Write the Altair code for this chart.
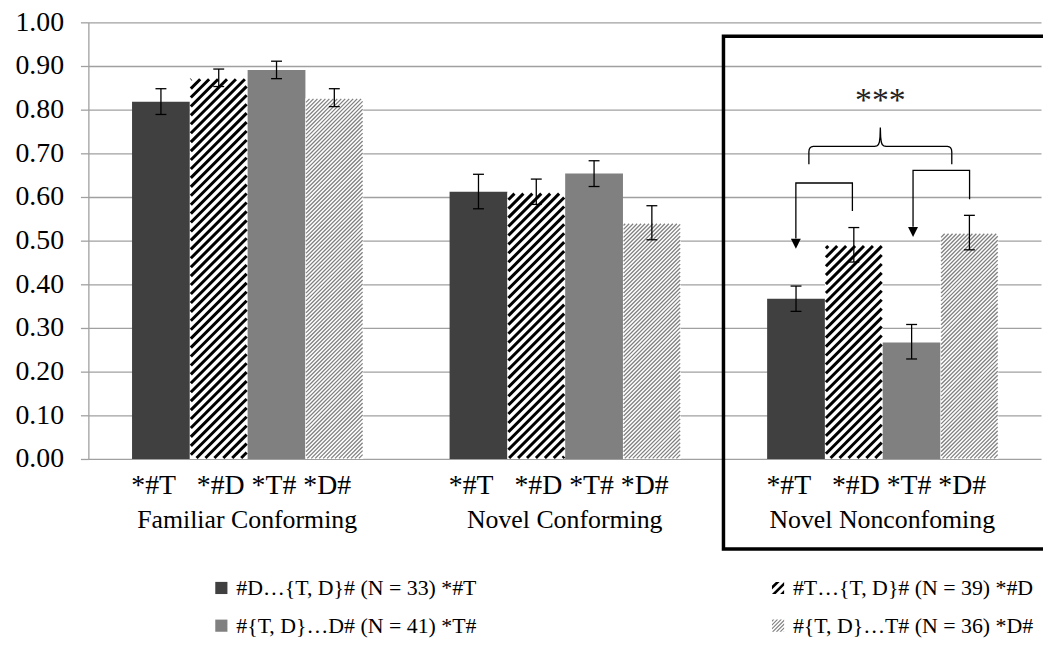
import math
import altair as alt
import pandas as pd

# ---------------- data ----------------
groups = ["Familiar Conforming", "Novel Conforming", "Novel Nonconfoming"]
conditions = ["*#T", "*#D", "*T#", "*D#"]
condition_row = "*#T\u00a0\u00a0\u00a0*#D *T# *D#"
legend_labels = [
    "#D\u2026{T, D}# (N = 33) *#T",
    "#T\u2026{T, D}# (N = 39) *#D",
    "#{T, D}\u2026D# (N = 41) *T#",
    "#{T, D}\u2026T# (N = 36) *D#",
]

mean_familiar_conf = [0.818, 0.872, 0.891, 0.826]
mean_novel_conf = [0.612, 0.610, 0.654, 0.540]
mean_novel_nonconf = [0.367, 0.490, 0.267, 0.517]

upper_familiar_conf = [0.848, 0.893, 0.911, 0.848]
upper_novel_conf = [0.652, 0.641, 0.683, 0.580]
upper_novel_nonconf = [0.396, 0.530, 0.308, 0.558]

lower_familiar_conf = [0.789, 0.853, 0.871, 0.807]
lower_novel_conf = [0.573, 0.583, 0.624, 0.502]
lower_novel_nonconf = [0.338, 0.451, 0.229, 0.479]

significance = "***"

# annotation geometry (in data units: x = category index, y = proportion)
brace_half = [(2.269, 0.675), (2.269, 0.703), (2.270, 0.709), (2.273, 0.713),
              (2.277, 0.715), (2.283, 0.716), (2.476, 0.716), (2.483, 0.717),
              (2.488, 0.720), (2.491, 0.726), (2.493, 0.738), (2.494, 0.759)]
arrow_left = [(2.406, 0.568), (2.406, 0.632), (2.228, 0.632), (2.228, 0.505)]
arrow_right = [(2.775, 0.595), (2.775, 0.661), (2.597, 0.661), (2.597, 0.532)]
arrow_heads = [(2.228, 0.493), (2.597, 0.520)]
highlight_box = (2.0, 3.02, 0.968, -0.206)
star_pos = (2.494, 0.798)

# ---------------- layout / style ----------------
W, H = 960, 440
SX, SY = W / 3.0, H / 1.0
GAP, BW = 0.1375, 0.182
FONT = "Liberation Serif"
GRID = "#a0a0a0"
bar_fills = ["#404040", "#ffffff", "#808080", "#ffffff"]

means = [mean_familiar_conf, mean_novel_conf, mean_novel_nonconf]
uppers = [upper_familiar_conf, upper_novel_conf, upper_novel_nonconf]
lowers = [lower_familiar_conf, lower_novel_conf, lower_novel_nonconf]

rows = []
for gi, g in enumerate(groups):
    for ci, c in enumerate(conditions):
        x0 = gi + GAP + ci * BW
        rows.append(dict(group=g, gi=gi, cond=c, ci=ci, label=legend_labels[ci],
                         x0=x0, x1=x0 + BW, xc=x0 + BW / 2,
                         value=means[gi][ci], lo=lowers[gi][ci], hi=uppers[gi][ci]))
bars = pd.DataFrame(rows)


def hatch_segments(df, period, inset):
    segs = []
    for _, r in df.iterrows():
        u0, u1 = r.x0 * SX + inset, r.x1 * SX - inset
        v0, vh = inset, r.value * SY - inset
        kmin = math.floor((v0 - u1) / period) - 1
        kmax = math.ceil((vh - u0) / period) + 1
        for k in range(kmin, kmax + 1):
            c = k * period
            us = max(u0, v0 - c)
            ue = min(u1, vh - c)
            if ue - us > 0.3:
                segs.append(dict(x=us / SX, y=(us + c) / SY, x2=ue / SX, y2=(ue + c) / SY))
    return pd.DataFrame(segs)


thick = hatch_segments(bars[bars.ci == 1], 9.0, 1.0)
fine = hatch_segments(bars[bars.ci == 3], 4.0, 0.6)

caps = pd.concat([bars.assign(yv=bars.lo), bars.assign(yv=bars.hi)])

group_df = pd.DataFrame(dict(group=groups, gx=[i + 0.5 for i in range(3)],
                             sub=[condition_row] * 3))

line_pts = []
full_brace = brace_half + [(2 * 2.494 - x, y) for x, y in reversed(brace_half[:-1])]
for pid, pts in enumerate([full_brace, arrow_left, arrow_right]):
    for o, (x, y) in enumerate(pts):
        line_pts.append(dict(pid=pid, o=o, x=x, y=y))
lines_df = pd.DataFrame(line_pts)
heads_df = pd.DataFrame([dict(x=x, y=y) for x, y in arrow_heads])
box_df = pd.DataFrame([dict(x=highlight_box[0], x2=highlight_box[1],
                            y=highlight_box[2], y2=highlight_box[3])])
star_df = pd.DataFrame([dict(x=star_pos[0], y=star_pos[1], t=significance)])


def clip_poly(poly, a, b, c):
    out = []
    n = len(poly)
    for i in range(n):
        p, q = poly[i], poly[(i + 1) % n]
        fp = a * p[0] + b * p[1] - c
        fq = a * q[0] + b * q[1] - c
        if fp <= 0:
            out.append(p)
        if (fp < 0 < fq) or (fq < 0 < fp):
            t = fp / (fp - fq)
            out.append((p[0] + t * (q[0] - p[0]), p[1] + t * (q[1] - p[1])))
    return out


def hatch_symbol(period, frac):
    square = [(-1, -1), (1, -1), (1, 1), (-1, 1)]
    parts = []
    for k in range(int(-2 / period) - 2, int(2 / period) + 3):
        c0 = k * period
        c1 = c0 + frac * period
        poly = clip_poly(square, -1, -1, -c0)
        poly = clip_poly(poly, 1, 1, c1)
        if len(poly) >= 3:
            parts.append("M" + "L".join(f"{x:.3f},{y:.3f}" for x, y in poly) + "Z")
    return "".join(parts)


solid_sq = "M-1,-1L1,-1L1,1L-1,1Z"
legend_shapes = [solid_sq, hatch_symbol(1.35, 0.45), solid_sq, hatch_symbol(0.62, 0.42)]
legend_fills = ["#404040", "#000000", "#808080", "#808080"]
# the legend grid fills column by column: order entries so rows read as in the reference
leg_order = [0, 2, 1, 3]

xs = alt.Scale(domain=[0, 3], nice=False, zero=False)
ys = alt.Scale(domain=[0, 1], nice=False)

yaxis = alt.Axis(values=[i / 10 for i in range(11)], format=".2f", title=None,
                 grid=True, gridColor=GRID, gridWidth=1.3,
                 domainColor=GRID, domainWidth=1.3,
                 tickColor=GRID, tickWidth=1.3, tickSize=8, labelPadding=17,
                 labelFont=FONT, labelFontSize=28, labelColor="black")


def Y(field):
    return alt.Y(field, scale=ys, axis=yaxis)


def X(field):
    return alt.X(field, scale=xs, axis=None)


bar_layer = alt.Chart(bars).mark_rect().encode(
    x=X("x0:Q"), x2="x1:Q",
    y=Y("value:Q"), y2=alt.datum(0),
    fill=alt.Fill("cond:N", scale=alt.Scale(domain=conditions, range=bar_fills), legend=None),
)

thick_layer = alt.Chart(thick).mark_rule(color="black", strokeWidth=3.0, strokeCap="butt").encode(
    x=X("x:Q"), x2="x2:Q", y=Y("y:Q"), y2="y2:Q")

fine_layer = alt.Chart(fine).mark_rule(color="#808080", strokeWidth=1.3, strokeCap="butt").encode(
    x=X("x:Q"), x2="x2:Q", y=Y("y:Q"), y2="y2:Q")

err_layer = alt.Chart(bars).mark_rule(color="black", strokeWidth=1.3).encode(
    x=X("xc:Q"), y=Y("lo:Q"), y2="hi:Q")

cap_layer = alt.Chart(caps).mark_point(shape="M-1,0L1,0", size=121, filled=False,
                                       stroke="black", strokeWidth=1.3, opacity=1).encode(
    x=X("xc:Q"), y=Y("yv:Q"))

sub_layer = alt.Chart(group_df).mark_text(font=FONT, fontSize=28, color="black",
                                          align="center", baseline="middle", dx=-6).encode(
    x=X("gx:Q"), y=alt.value(467), text="sub:N")

name_layer = alt.Chart(group_df).mark_text(font=FONT, fontSize=26, color="black",
                                           align="center", baseline="middle").encode(
    x=X("gx:Q"), y=alt.value(502), text="group:N")

box_layer = alt.Chart(box_df).mark_rect(fillOpacity=0, stroke="black", strokeWidth=3.5,
                                        clip=False).encode(
    x=X("x:Q"), x2="x2:Q", y=Y("y:Q"), y2="y2:Q")

ann_layer = alt.Chart(lines_df).mark_line(color="black", strokeWidth=1.3).encode(
    x=X("x:Q"), y=Y("y:Q"), detail="pid:N", order="o:Q")

head_layer = alt.Chart(heads_df).mark_point(shape="M-1,-1L1,-1L0,1Z", size=100, filled=True,
                                            color="black", opacity=1).encode(
    x=X("x:Q"), y=Y("y:Q"))

star_layer = alt.Chart(star_df).mark_text(font=FONT, fontSize=34, color="#222222",
                                          align="center", baseline="alphabetic").encode(
    x=X("x:Q"), y=Y("y:Q"), text="t:N")

leg = alt.Legend(title=None, orient="none", legendX=123, legendY=559, columns=2,
                 columnPadding=292, rowPadding=16, symbolSize=150, symbolStrokeWidth=0,
                 symbolOpacity=1, labelFont=FONT, labelFontSize=22, labelColor="black",
                 labelOffset=4, labelLimit=600, padding=0)

legend_layer = alt.Chart(bars[bars.gi == 0]).mark_point(filled=True, opacity=0).encode(
    x=X("xc:Q"), y=Y("value:Q"),
    fill=alt.Fill("label:N", scale=alt.Scale(domain=[legend_labels[i] for i in leg_order],
                                             range=[legend_fills[i] for i in leg_order]),
                  legend=leg),
    shape=alt.Shape("label:N", scale=alt.Scale(domain=[legend_labels[i] for i in leg_order],
                                               range=[legend_shapes[i] for i in leg_order]),
                    legend=leg),
)

chart = alt.layer(
    bar_layer, thick_layer, fine_layer, err_layer, cap_layer, sub_layer, name_layer,
    box_layer, ann_layer, head_layer, star_layer, legend_layer,
).resolve_scale(fill="independent", shape="independent").properties(
    width=W, height=H,
    autosize=alt.AutoSizeParams(type="none"),
    padding={"left": 81, "top": 12, "right": 2, "bottom": 182},
    background="white",
).configure_view(stroke=None)

chart.save("out.html", embed_options={"renderer": "svg", "actions": False})
